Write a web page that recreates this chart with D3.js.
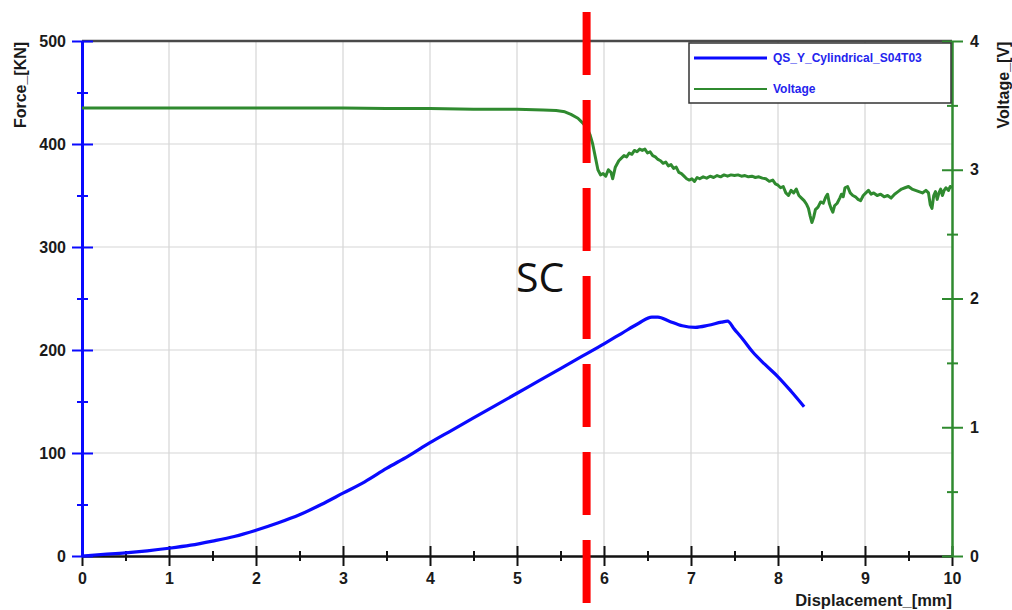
<!DOCTYPE html>
<html>
<head>
<meta charset="utf-8">
<script src="https://cdn.jsdelivr.net/npm/d3@7"></script>
<style>
  body { margin: 0; background: #fff; }
  svg text { font-family: "Liberation Sans", Arial, sans-serif; }
</style>
</head>
<body>
<div id="chart"></div>
<script>
const width = 1012,
  height = 610,
  margin = { top: 41, bottom: 54, left: 82, right: 60 };

// displacement [mm] / force [KN]
const forceData = [
  [0, 0], [0.25, 1.5], [0.5, 3], [0.75, 5], [1, 7.5], [1.25, 10.5], [1.5, 14.5],
  [1.75, 19], [2, 25], [2.25, 32], [2.5, 40], [2.75, 50], [3, 61], [3.25, 72],
  [3.5, 85], [3.75, 97], [4, 110], [4.25, 122], [4.5, 134], [4.75, 146], [5, 158],
  [5.25, 170], [5.5, 182], [5.75, 194], [6, 206], [6.2, 216], [6.4, 226], [6.55, 232],
  [6.62, 232], [6.75, 228], [6.9, 223.5], [7.05, 222], [7.2, 224], [7.35, 227],
  [7.42, 228], [7.5, 220], [7.6, 210], [7.71, 198], [7.85, 186], [8.0, 174],
  [8.15, 160], [8.3, 145]
];

// displacement [mm] / voltage [V]
const voltageData = [
  [0, 3.48], [1, 3.48], [2, 3.48], [3, 3.48], [3.5, 3.475], [4, 3.475], [4.5, 3.47],
  [5, 3.47], [5.3, 3.465], [5.45, 3.46], [5.55, 3.45], [5.62, 3.43], [5.7, 3.40],
  [5.76, 3.36], [5.8, 3.33], [5.84, 3.27], [5.87, 3.20], [5.9, 3.10], [5.93, 3.00],
  [5.96, 2.96], [5.99, 2.97], [6.02, 2.95], [6.05, 3.00], [6.08, 2.98], [6.1, 2.93],
  [6.13, 3.02], [6.17, 3.07],
  [6.20, 3.09], [6.23, 3.11], [6.26, 3.10], [6.29, 3.13], [6.32, 3.12], [6.35, 3.15],
  [6.38, 3.14], [6.41, 3.16], [6.44, 3.15], [6.47, 3.16], [6.50, 3.13], [6.53, 3.14],
  [6.56, 3.11], [6.59, 3.10], [6.62, 3.08], [6.65, 3.07], [6.68, 3.05], [6.71, 3.06],
  [6.74, 3.03], [6.77, 3.04], [6.80, 3.01], [6.83, 3.02], [6.86, 2.98], [6.89, 2.97],
  [6.92, 2.95], [6.95, 2.93], [6.98, 2.92], [7.01, 2.93], [7.04, 2.91], [7.07, 2.94],
  [7.10, 2.93], [7.14, 2.945], [7.18, 2.935], [7.22, 2.95], [7.26, 2.94], [7.30, 2.955],
  [7.34, 2.945], [7.38, 2.96], [7.42, 2.95], [7.46, 2.96], [7.50, 2.955], [7.54, 2.96],
  [7.58, 2.95], [7.62, 2.955], [7.66, 2.945], [7.70, 2.95], [7.74, 2.94], [7.78, 2.945],
  [7.82, 2.935], [7.86, 2.93], [7.90, 2.91], [7.94, 2.92], [7.97, 2.89], [8.00, 2.88],
  [8.03, 2.86], [8.06, 2.87], [8.09, 2.82], [8.12, 2.80], [8.15, 2.84], [8.18, 2.82],
  [8.21, 2.85], [8.24, 2.80], [8.27, 2.78], [8.30, 2.76], [8.33, 2.73], [8.35, 2.70],
  [8.37, 2.64], [8.39, 2.59], [8.41, 2.63], [8.43, 2.69], [8.46, 2.71], [8.49, 2.75],
  [8.52, 2.74], [8.55, 2.79], [8.57, 2.81], [8.59, 2.74], [8.61, 2.70], [8.63, 2.67],
  [8.65, 2.72], [8.68, 2.74], [8.71, 2.78], [8.73, 2.81], [8.75, 2.79], [8.77, 2.86],
  [8.80, 2.87], [8.83, 2.82], [8.86, 2.80], [8.89, 2.79], [8.92, 2.77], [8.95, 2.76],
  [8.98, 2.80], [9.01, 2.82], [9.04, 2.84], [9.07, 2.81], [9.10, 2.82], [9.14, 2.80],
  [9.18, 2.81], [9.22, 2.79], [9.26, 2.80], [9.30, 2.78], [9.34, 2.81], [9.38, 2.83],
  [9.42, 2.85], [9.46, 2.86], [9.50, 2.87], [9.54, 2.85], [9.58, 2.84], [9.62, 2.83],
  [9.66, 2.82], [9.70, 2.84], [9.73, 2.82], [9.75, 2.73], [9.77, 2.70], [9.79, 2.80],
  [9.81, 2.83], [9.83, 2.77], [9.85, 2.82], [9.87, 2.85], [9.89, 2.80], [9.91, 2.84],
  [9.93, 2.86], [9.96, 2.84], [9.98, 2.87], [10, 2.86]
];

const xTicks = [0, 1, 2, 3, 4, 5, 6, 7, 8, 9, 10];
const xMinor = [0.5, 1.5, 2.5, 3.5, 4.5, 5.5, 6.5, 7.5, 8.5, 9.5];
const forceTicks = [0, 100, 200, 300, 400, 500];
const forceMinor = [50, 150, 250, 350, 450];
const voltTicks = [0, 1, 2, 3, 4];
const voltMinor = [0.5, 1.5, 2.5, 3.5];
const scDisplacement = 5.8;
const seriesNames = ["QS_Y_Cylindrical_S04T03", "Voltage"];

const blue = "#0a0aff", green = "#2f8a2f";

const xScale = d3.scaleLinear().domain([0, 10]).range([margin.left, width - margin.right]);
const yForce = d3.scaleLinear().domain([0, 500]).range([height - margin.bottom, margin.top]);
const yVolt = d3.scaleLinear().domain([0, 4]).range([height - margin.bottom, margin.top]);

const svg = d3.select("#chart").append("svg").attr("width", width).attr("height", height);

// grid
svg.append("g").selectAll("line").data(xTicks.slice(1, -1)).join("line")
  .attr("x1", d => xScale(d)).attr("x2", d => xScale(d))
  .attr("y1", yForce(0)).attr("y2", yForce(500))
  .attr("stroke", "#d6d6d6").attr("stroke-width", 1.2);
svg.append("g").selectAll("line").data(forceTicks.slice(1, -1)).join("line")
  .attr("x1", xScale(0)).attr("x2", xScale(10))
  .attr("y1", d => yForce(d)).attr("y2", d => yForce(d))
  .attr("stroke", "#d6d6d6").attr("stroke-width", 1.2);

// top border
svg.append("line")
  .attr("x1", xScale(0)).attr("x2", xScale(10))
  .attr("y1", yForce(500)).attr("y2", yForce(500))
  .attr("stroke", "#4a4a4a").attr("stroke-width", 2.5);

function styleAxis(g, color, width) {
  g.selectAll(".domain").attr("stroke", color).attr("stroke-width", width);
  g.selectAll(".tick line").attr("stroke", color).attr("stroke-width", 2);
  g.selectAll("text").attr("fill", "#1a1a1a").style("font-size", "16px").style("font-weight", "bold");
}

// bottom axis
const gx = svg.append("g").attr("transform", `translate(0,${yForce(0)})`);
gx.call(d3.axisBottom(xScale).tickValues(xTicks).tickSize(10).tickSizeOuter(0).tickPadding(7).tickFormat(d3.format("d")))
  .call(g => styleAxis(g, "#111", 2.5));
gx.append("g").call(d3.axisTop(xScale).tickValues(xTicks).tickSize(10).tickFormat(""))
  .call(g => { g.select(".domain").remove(); g.selectAll("line").attr("stroke", "#111").attr("stroke-width", 2); });
gx.append("g").call(d3.axisBottom(xScale).tickValues(xMinor).tickSize(5).tickFormat(""))
  .call(g => { g.select(".domain").remove(); g.selectAll("line").attr("stroke", "#111").attr("stroke-width", 2); });
gx.append("g").call(d3.axisTop(xScale).tickValues(xMinor).tickSize(5).tickFormat(""))
  .call(g => { g.select(".domain").remove(); g.selectAll("line").attr("stroke", "#111").attr("stroke-width", 2); });

// left axis (force)
const gy = svg.append("g").attr("transform", `translate(${xScale(0)},0)`);
gy.call(d3.axisLeft(yForce).tickValues(forceTicks).tickSize(10).tickSizeOuter(0).tickPadding(6))
  .call(g => styleAxis(g, blue, 3));
[[d3.axisRight, forceTicks, 11], [d3.axisLeft, forceMinor, 5], [d3.axisRight, forceMinor, 6]].forEach(([ax, vals, size]) => {
  gy.append("g").call(ax(yForce).tickValues(vals).tickSize(size).tickFormat(""))
    .call(g => { g.select(".domain").remove(); g.selectAll("line").attr("stroke", blue).attr("stroke-width", 2); });
});

// right axis (voltage)
const gv = svg.append("g").attr("transform", `translate(${xScale(10)},0)`);
gv.call(d3.axisRight(yVolt).tickValues(voltTicks).tickSize(11).tickSizeOuter(0).tickPadding(7).tickFormat(d3.format("d")))
  .call(g => styleAxis(g, green, 2.5));
[[d3.axisLeft, voltTicks, 10], [d3.axisRight, voltMinor, 6], [d3.axisLeft, voltMinor, 5]].forEach(([ax, vals, size]) => {
  gv.append("g").call(ax(yVolt).tickValues(vals).tickSize(size).tickFormat(""))
    .call(g => { g.select(".domain").remove(); g.selectAll("line").attr("stroke", green).attr("stroke-width", 2); });
});

// axis titles
svg.append("text")
  .attr("transform", `translate(26,${margin.top + 44}) rotate(-90)`)
  .attr("text-anchor", "middle")
  .style("font-size", "16px").style("font-weight", "bold").attr("fill", "#1a1a1a")
  .text("Force_[KN]");
svg.append("text")
  .attr("transform", `translate(1009,${margin.top + 44}) rotate(-90)`)
  .attr("text-anchor", "middle")
  .style("font-size", "16px").style("font-weight", "bold").attr("fill", "#1a1a1a")
  .text("Voltage_[V]");
svg.append("text")
  .attr("x", xScale(10)).attr("y", 606)
  .attr("text-anchor", "end")
  .style("font-size", "16.5px").style("font-weight", "bold").attr("fill", "#1a1a1a")
  .text("Displacement_[mm]");

// series
const lineF = d3.line().x(d => xScale(d[0])).y(d => yForce(d[1])).curve(d3.curveMonotoneX);
const lineV = d3.line().x(d => xScale(d[0])).y(d => yVolt(d[1]));

svg.append("path").datum(voltageData)
  .attr("d", lineV).attr("fill", "none")
  .attr("stroke", green).attr("stroke-width", 3).attr("stroke-linejoin", "round");

svg.append("path").datum(forceData)
  .attr("d", lineF).attr("fill", "none")
  .attr("stroke", blue).attr("stroke-width", 3.2).attr("stroke-linejoin", "round");

// legend
const legend = svg.append("g").attr("transform", "translate(689,43)");
legend.append("rect")
  .attr("width", 262).attr("height", 60)
  .attr("fill", "#fff").attr("stroke", "#333").attr("stroke-width", 1.5);
seriesNames.forEach((name, i) => {
  const yy = 15 + i * 31;
  legend.append("line")
    .attr("x1", 5).attr("x2", 78).attr("y1", yy).attr("y2", yy)
    .attr("stroke", i === 0 ? blue : green).attr("stroke-width", i === 0 ? 3 : 2);
  legend.append("text")
    .attr("x", 84).attr("y", yy + 4)
    .style("font-size", "12px").style("font-weight", "bold").attr("fill", "#2424ee")
    .text(name);
});

// SC marker
svg.append("line")
  .attr("x1", xScale(scDisplacement)).attr("x2", xScale(scDisplacement))
  .attr("y1", 12).attr("y2", 605)
  .attr("stroke", "#ff0000").attr("stroke-width", 8)
  .attr("stroke-dasharray", "63,25");
svg.append("text")
  .attr("x", 516).attr("y", 292)
  .style("font-family", "'Open Sans', sans-serif").style("font-size", "41px")
  .attr("fill", "#111")
  .text("SC");
</script>
</body>
</html>
